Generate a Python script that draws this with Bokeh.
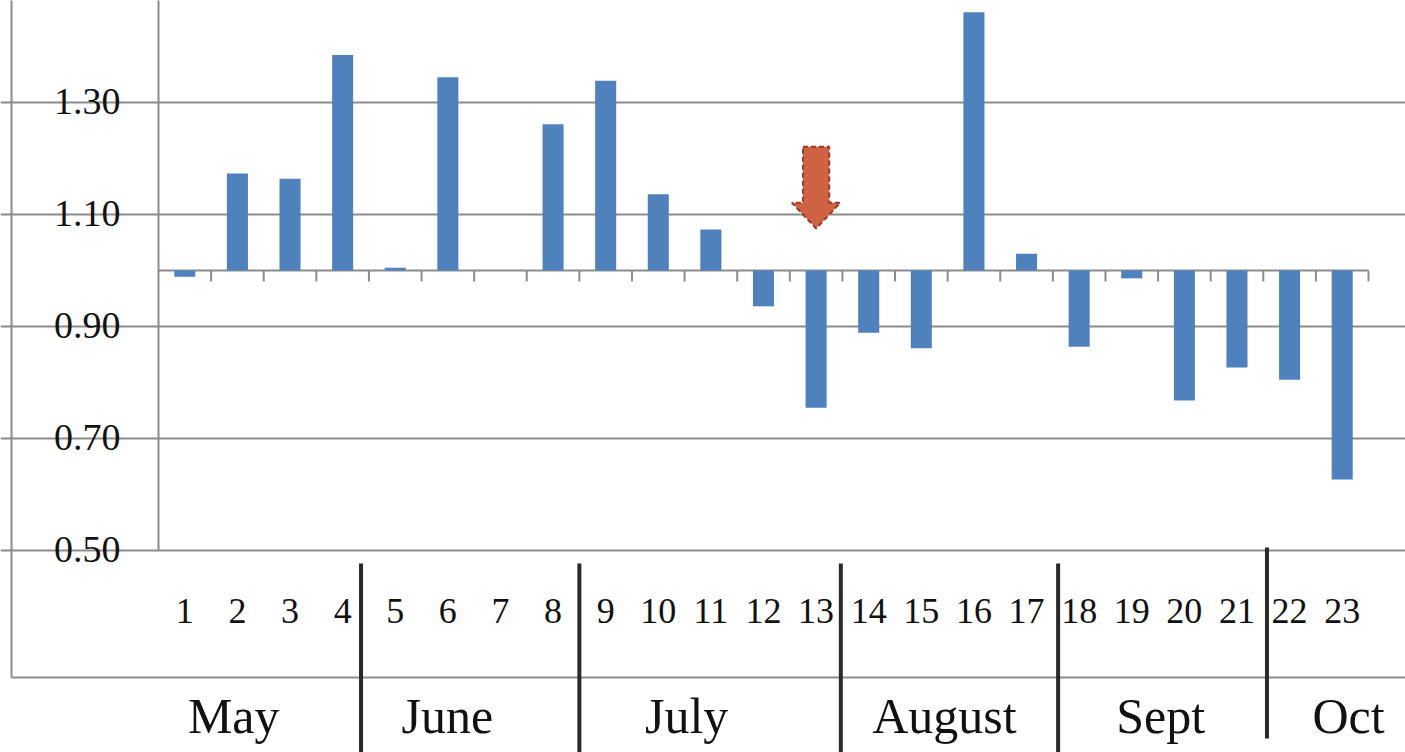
import math

from bokeh.plotting import figure
from bokeh.models import Range1d, FixedTicker, Grid
from bokeh.embed import file_html
from bokeh.resources import INLINE

# Weekly ratio values (baseline = 1.00)
weeks = list(range(1, 24))
ratio = [0.989, 1.173, 1.164, 1.385, 1.005, 1.345, 1.000, 1.261,
         1.339, 1.136, 1.073, 0.936, 0.755, 0.889, 0.861, 1.461,
         1.030, 0.864, 0.986, 0.768, 0.827, 0.805, 0.627]
y_ticks = [0.50, 0.70, 0.90, 1.10, 1.30]
baseline = 1.0

# Month grouping shown under the week numbers
months = ["May", "June", "July", "August", "Sept", "Oct"]
month_label_x = [1.93, 5.99, 10.54, 15.44, 19.55, 23.12]
month_edges = [4.35, 8.5, 13.47, 17.6, 21.57]
highlight_week = 13

GRID = "#8c8c8c"
BAR = "#4f81bd"
INK = "#111111"
SERIF = "Liberation Serif"

# Canvas layout: the plotting frame fills the page; the chart body spans
# x 0.5..23.5 (one unit per week) and y 0.5..1.48.
W, H = 1405, 752
LEFT, BODY_W = 158, 1210
PX_PER_X = BODY_W / 23
PX_PER_Y = 560.0
Y_BASE_PX = 270


def xdata(px):
    return 0.5 + (px - LEFT) / PX_PER_X


def ydata(py):
    return baseline + (Y_BASE_PX - py) / PX_PER_Y


p = figure(width=W, height=H,
           x_range=Range1d(xdata(0), xdata(W)),
           y_range=Range1d(ydata(H), ydata(0)),
           x_axis_type=None, y_axis_type=None,
           output_backend="svg", toolbar_location=None, min_border=0)
p.outline_line_color = None
p.background_fill_color = "white"
p.border_fill_color = "white"

# horizontal gridlines limited to the chart body
p.add_layout(Grid(dimension=1, ticker=FixedTicker(ticks=y_ticks + [1.5]),
                  bounds=(0.5, 23.5), grid_line_color=GRID, grid_line_width=2))

# value axis line
p.segment(x0=0.5, y0=0.5, x1=0.5, y1=1.6, line_color=GRID, line_width=2)

# value tick labels
p.text(x=[0.5] * len(y_ticks), y=y_ticks, text=[f"{t:.2f}" for t in y_ticks],
       x_offset=-38, y_offset=-1, text_align="right", text_baseline="alphabetic",
       text_font={"value": SERIF}, text_font_size={"value": "38px"}, text_color=INK)

# category axis crossing at 1.00 with ticks between weeks
p.segment(x0=0.5, y0=baseline, x1=23.5, y1=baseline, line_color=GRID, line_width=2)
p.ray(x=[w + 0.5 for w in weeks], y=baseline, length=11, length_units="screen",
      angle=-math.pi / 2, line_color=GRID, line_width=2)

# bars grow from the 1.00 baseline
p.vbar(x=weeks, top=ratio, bottom=baseline, width=0.4,
       fill_color=BAR, line_color=None)

# week numbers below the chart body
p.text(x=weeks, y=ydata(625), text=[str(w) for w in weeks], y_offset=-15,
       text_align="center", text_baseline="alphabetic",
       text_font={"value": SERIF}, text_font_size={"value": "36px"}, text_color=INK)

# downward arrow marking the highlighted week
cx = highlight_week
shaft, head = 0.25, 0.46
y_top, y_head, y_tip = 1.221, 1.121, 1.075
p.patch(x=[cx - shaft, cx + shaft, cx + shaft, cx + head, cx, cx - head, cx - shaft],
        y=[y_top, y_top, y_head, y_head, y_tip, y_head, y_head],
        fill_color="#cf6242", line_color="#983a24", line_width=2, line_dash="5 3")

# outer frame (left and bottom edges)
frame_x, frame_y = xdata(11), ydata(677)
p.segment(x0=frame_x, y0=frame_y, x1=frame_x, y1=ydata(-5), line_color=GRID, line_width=2)
p.segment(x0=frame_x, y0=frame_y, x1=xdata(W + 5), y1=frame_y, line_color=GRID, line_width=2)

# month separators
sep_top = [ydata(563)] * (len(month_edges) - 1) + [ydata(547)]
sep_bot = [ydata(H + 5)] * (len(month_edges) - 1) + [ydata(738)]
p.segment(x0=month_edges, y0=sep_top, x1=month_edges, y1=sep_bot,
          line_color="#2a2a2a", line_width=4)

# month names
p.text(x=month_label_x, y=[ydata(732)] * len(months), text=months, y_offset=-17,
       text_align="center", text_baseline="alphabetic",
       text_font={"value": SERIF}, text_font_size={"value": "50px"}, text_color=INK)

open("out.html", "w").write(file_html(p, INLINE))
